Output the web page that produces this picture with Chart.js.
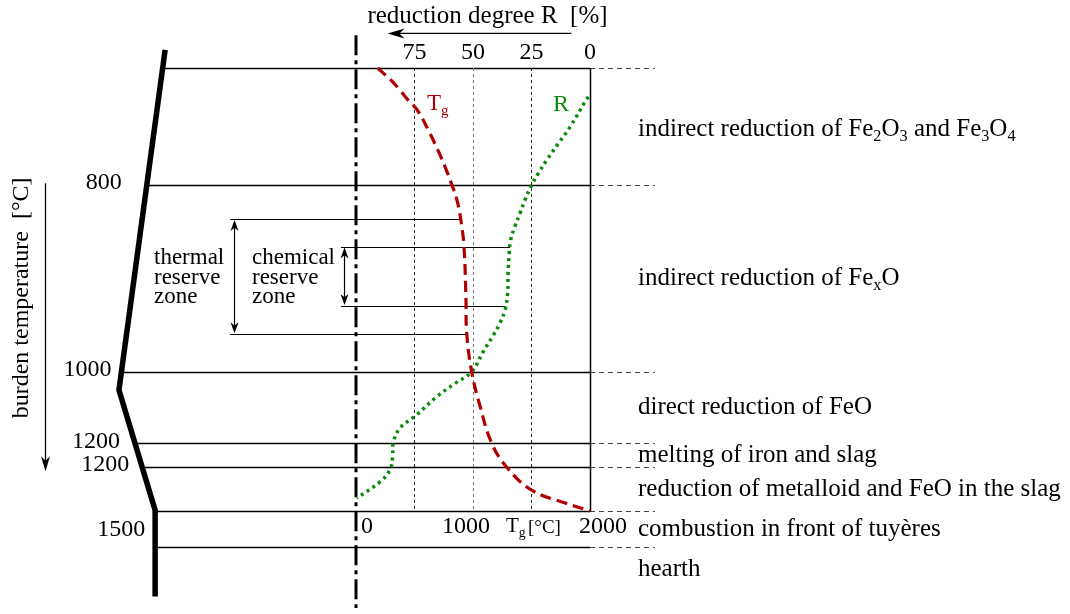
<!DOCTYPE html>
<html>
<head>
<meta charset="utf-8">
<script src="https://cdn.jsdelivr.net/npm/chart.js@4.4.1/dist/chart.umd.min.js"></script>
<style>
  html, body { margin: 0; padding: 0; background: #fff; }
  #wrap { width: 1070px; height: 614px; }
</style>
</head>
<body>
<div id="wrap"><canvas id="furnaceChart" width="1070" height="614"></canvas></div>
<script>
// depth axis: 0 = top of the shaft box, 100 = tuyere level

// gas temperature Tg [°C] along the shaft
var tgDepth  = [0, 2.7, 5.0, 7.2, 9.5, 14.0, 18.6, 22.3, 26.4, 29.8, 34.1, 40.3, 52.4, 59.8, 68.6, 76.3, 84.7, 90.1, 95.3, 98.3, 100];
var tgValues = [185, 297, 376, 444, 524, 618, 701, 761, 820, 863, 895, 923, 940, 946, 989, 1060, 1160, 1288, 1502, 1801, 2000];

// reduction degree R [%] along the shaft
var rDepth  = [6.5, 7.6, 13.3, 17.0, 20.8, 23.8, 26.4, 29.8, 32.8, 35.8, 38.8, 41.8, 46.3, 50.9, 54.6, 57.6, 60.3, 64.0, 68.6, 71.2, 74.2, 78.3, 81.3, 84.7, 87.7, 90.7, 93.4, 97.1];
var rValues = [0.7, 2.1, 8.5, 13.5, 18.5, 22.1, 24.9, 27.8, 29.9, 32.1, 33.9, 34.5, 35.0, 35.2, 36.3, 38.5, 41.3, 45.6, 50.6, 57.7, 65.5, 74.1, 81.2, 84.1, 84.3, 85.5, 89.7, 99.7];

// furnace wall profile (radius in m from the centre line)
var wallDepth  = [-4.1, 72.7, 99.8, 119.3];
var wallRadius = [4.01, 4.98, 4.22, 4.22];

// zone boundaries and labels
var levelDepths = [0, 26.4, 68.6, 84.7, 90.1, 100, 108.1];
var zoneLabels = [
  'indirect reduction of Fe_2O_3 and Fe_3O_4',
  'indirect reduction of Fe_xO',
  'direct reduction of FeO',
  'melting of iron and slag',
  'reduction of metalloid and FeO in the slag',
  'combustion in front of tuyères',
  'hearth'
];
var burdenTempLabels = ['800', '1000', '1200', '1200', '1500'];
var burdenTempDepths = [26.4, 68.6, 84.7, 90.1, 104.6];

var rTicks  = [75, 50, 25, 0];
var tgTicks = [0, 1000, 2000];

var thermalZone  = [34.1, 60.1];
var chemicalZone = [40.3, 53.7];

var red = '#b00000';
var green = '#0b8a0b';
var FONT = "'Liberation Serif', 'Times New Roman', serif";

function toPoints(depths, vals) {
  return depths.map(function (d, i) { return { x: vals[i], y: d }; });
}

function interp(depths, vals, d) {
  for (var i = 1; i < depths.length; i++) {
    if (d <= depths[i]) {
      var t = (d - depths[i - 1]) / (depths[i] - depths[i - 1]);
      return vals[i - 1] + t * (vals[i] - vals[i - 1]);
    }
  }
  return vals[vals.length - 1];
}

// text with "_x" subscripts
function richWidth(ctx, str, size) {
  var w = 0;
  for (var i = 0; i < str.length; i++) {
    if (str[i] === '_') { ctx.font = (size * 0.65) + 'px ' + FONT; w += ctx.measureText(str[i + 1]).width; i++; }
    else { ctx.font = size + 'px ' + FONT; w += ctx.measureText(str[i]).width; }
  }
  return w;
}
function drawRich(ctx, str, x, y, size, align) {
  if (align === 'center') x -= richWidth(ctx, str, size) / 2;
  ctx.textAlign = 'left';
  ctx.textBaseline = 'middle';
  var buf = '';
  function flush() {
    if (!buf) return;
    ctx.font = size + 'px ' + FONT;
    ctx.fillText(buf, x, y);
    x += ctx.measureText(buf).width;
    buf = '';
  }
  for (var i = 0; i < str.length; i++) {
    if (str[i] === '_') {
      flush();
      ctx.font = (size * 0.65) + 'px ' + FONT;
      ctx.fillText(str[i + 1], x, y + size * 0.3);
      x += ctx.measureText(str[i + 1]).width;
      i++;
    } else buf += str[i];
  }
  flush();
}

function arrowHead(ctx, x, y, dx, dy, len, half) {
  ctx.beginPath();
  ctx.moveTo(x, y);
  ctx.lineTo(x - dx * len - dy * half, y - dy * len + dx * half);
  ctx.lineTo(x - dx * len * 0.7, y - dy * len * 0.7);
  ctx.lineTo(x - dx * len + dy * half, y - dy * len - dx * half);
  ctx.closePath();
  ctx.fill();
}

function hline(ctx, x0, x1, y, width, dash) {
  ctx.save();
  ctx.lineWidth = width;
  ctx.setLineDash(dash || []);
  ctx.beginPath();
  ctx.moveTo(x0, y);
  ctx.lineTo(x1, y);
  ctx.stroke();
  ctx.restore();
}

var furnacePlugin = {
  id: 'furnace',
  beforeDatasetsDraw: function (chart) {
    var ctx = chart.ctx, s = chart.scales;
    var X = function (v) { return s.x.getPixelForValue(v); };
    var XR = function (v) { return s.xR.getPixelForValue(v); };
    var Y = function (v) { return s.y.getPixelForValue(v); };
    var wallX = function (d) { return s.xr.getPixelForValue(interp(wallDepth, wallRadius, d)); };

    ctx.save();
    ctx.strokeStyle = '#000';
    ctx.fillStyle = '#000';

    // zone boundaries
    levelDepths.forEach(function (d) {
      var y = Math.round(Y(d)) + 0.5;
      hline(ctx, wallX(d), X(2000), y, 1.3);
      ctx.strokeStyle = '#444';
      hline(ctx, X(2000), X(2555), y, 1, [5, 4]);
      ctx.strokeStyle = '#000';
    });

    // right edge of the diagram box
    ctx.lineWidth = 1.5;
    ctx.beginPath();
    ctx.moveTo(Math.round(X(2000)) + 0.5, Y(0));
    ctx.lineTo(Math.round(X(2000)) + 0.5, Y(100));
    ctx.stroke();

    // reduction degree grid
    rTicks.forEach(function (v) {
      if (v === 0) return;
      var x = Math.round(XR(v)) + 0.5;
      ctx.save();
      ctx.strokeStyle = v === 50 ? '#777' : '#222';
      ctx.lineWidth = 1;
      ctx.setLineDash([3, 3]);
      ctx.beginPath();
      ctx.moveTo(x, Y(0));
      ctx.lineTo(x, Y(100));
      ctx.stroke();
      ctx.restore();
    });

    // thermal reserve zone
    var thX = 230;
    thermalZone.forEach(function (d) {
      hline(ctx, thX, X(interp(tgDepth, tgValues, d)), Math.round(Y(d)) + 0.5, 1.2);
    });
    // chemical reserve zone
    var chX = 341;
    chemicalZone.forEach(function (d) {
      hline(ctx, chX, XR(interp(rDepth, rValues, d)), Math.round(Y(d)) + 0.5, 1.2);
    });
    [[thX + 4.5, thermalZone], [chX + 3.5, chemicalZone]].forEach(function (a) {
      var y0 = Y(a[1][0]) + 1, y1 = Y(a[1][1]) - 1;
      ctx.lineWidth = 1.2;
      ctx.beginPath();
      ctx.moveTo(a[0], y0 + 6);
      ctx.lineTo(a[0], y1 - 6);
      ctx.stroke();
      arrowHead(ctx, a[0], y0, 0, -1, 11, 4);
      arrowHead(ctx, a[0], y1, 0, 1, 11, 4);
    });

    // burden temperature arrow on the left
    ctx.lineWidth = 1.3;
    ctx.beginPath();
    ctx.moveTo(45.5, Y(26.0));
    ctx.lineTo(45.5, Y(89));
    ctx.stroke();
    arrowHead(ctx, 45.5, Y(91.0), 0, 1, 15, 4.5);

    // reduction degree arrow on top
    ctx.beginPath();
    ctx.moveTo(XR(8), Y(-7.8));
    ctx.lineTo(XR(84), Y(-7.8));
    ctx.stroke();
    arrowHead(ctx, XR(86.5), Y(-7.8), -1, 0, 17, 5);
    ctx.restore();
  },
  afterDatasetsDraw: function (chart) {
    var ctx = chart.ctx, s = chart.scales;
    var X = function (v) { return s.x.getPixelForValue(v); };
    var XR = function (v) { return s.xR.getPixelForValue(v); };
    var Y = function (v) { return s.y.getPixelForValue(v); };
    var wallX = function (d) { return s.xr.getPixelForValue(interp(wallDepth, wallRadius, d)); };

    ctx.save();
    ctx.fillStyle = '#000';

    // zone descriptions at the middle of each zone
    zoneLabels.forEach(function (txt, i) {
      var top = levelDepths[i];
      var bot = i + 1 < levelDepths.length ? levelDepths[i + 1] : levelDepths[i] + 10;
      var nudge = i === 0 ? 3 : 0;
      drawRich(ctx, txt, 638, Y((top + bot) / 2) + nudge, 25, 'left');
    });

    // burden temperatures next to the wall
    var gaps = [25, 10, 15, 13, 10];
    burdenTempLabels.forEach(function (t, i) {
      var d = burdenTempDepths[i];
      ctx.font = '24px ' + FONT;
      ctx.textAlign = 'right';
      ctx.textBaseline = 'middle';
      ctx.fillText(t, wallX(d) - gaps[i], Y(d) - 2);
    });

    // reduction degree ticks and title
    rTicks.forEach(function (v) {
      ctx.font = '24px ' + FONT;
      ctx.textAlign = 'center';
      ctx.textBaseline = 'middle';
      ctx.fillText(String(v), XR(v), Y(-3.4));
    });
    ctx.font = '25px ' + FONT;
    ctx.fillText('reduction degree R  [%]', XR(43.8), Y(-11.6));

    // gas temperature ticks
    var tickY = Y(103.6);
    ctx.font = '24px ' + FONT;
    ctx.textAlign = 'left';
    ctx.fillText(String(tgTicks[0]), X(tgTicks[0]) + 5, tickY);
    ctx.textAlign = 'center';
    ctx.fillText(String(tgTicks[1]), X(tgTicks[1]) - 7, tickY);
    ctx.fillText(String(tgTicks[2]), X(tgTicks[2]) + 13, tickY);
    drawRich(ctx, 'T_g', 506, tickY, 21, 'left');
    ctx.font = '19px ' + FONT;
    ctx.textAlign = 'left';
    ctx.fillText('[°C]', 528, tickY + 1);

    // reserve zone captions
    ctx.font = '23px ' + FONT;
    ctx.textAlign = 'left';
    ctx.textBaseline = 'middle';
    ['thermal', 'reserve', 'zone'].forEach(function (t, i) { ctx.fillText(t, 154, 258 + i * 19.5); });
    ['chemical', 'reserve', 'zone'].forEach(function (t, i) { ctx.fillText(t, 252, 258 + i * 19.5); });

    // curve labels
    ctx.fillStyle = red;
    drawRich(ctx, 'T_g', 427, 104, 23, 'left');
    ctx.fillStyle = green;
    ctx.font = '24px ' + FONT;
    ctx.fillText('R', 553, 105);

    // axis title on the left
    ctx.fillStyle = '#000';
    ctx.translate(22, Y(51.9));
    ctx.rotate(-Math.PI / 2);
    ctx.font = '24px ' + FONT;
    ctx.textAlign = 'center';
    ctx.fillText('burden temperature  [°C]', 0, 0);
    ctx.restore();
  }
};

new Chart(document.getElementById('furnaceChart'), {
  type: 'line',
  data: {
    datasets: [
      {
        label: 'Tg', data: toPoints(tgDepth, tgValues), xAxisID: 'x', yAxisID: 'y',
        borderColor: red, borderWidth: 3.2, borderDash: [11, 6],
        tension: 0.4, pointRadius: 0, fill: false
      },
      {
        label: 'R', data: toPoints(rDepth, rValues), xAxisID: 'xR', yAxisID: 'y',
        borderColor: green, borderWidth: 3.5, borderDash: [3, 4],
        tension: 0.4, pointRadius: 0, fill: false
      },
      {
        label: 'wall', data: toPoints(wallDepth, wallRadius), xAxisID: 'xr', yAxisID: 'y',
        borderColor: '#000', borderWidth: 5.5, borderJoinStyle: 'miter',
        tension: 0, pointRadius: 0, fill: false
      },
      {
        label: 'centre line', data: [{ x: 0, y: -7.4 }, { x: 0, y: 121.9 }], xAxisID: 'xr', yAxisID: 'y',
        borderColor: '#000', borderWidth: 3, borderDash: [20, 5, 4, 5],
        tension: 0, pointRadius: 0, fill: false
      }
    ]
  },
  options: {
    responsive: false,
    animation: false,
    devicePixelRatio: 1,
    events: [],
    layout: { padding: 0 },
    plugins: { legend: { display: false }, tooltip: { enabled: false } },
    scales: {
      x:  { axis: 'x', type: 'linear', display: false, min: -3043, max: 6103 },
      xR: { axis: 'x', type: 'linear', display: false, reverse: true, min: -205.1, max: 252.1 },
      xr: { axis: 'x', type: 'linear', display: false, reverse: true, min: -15.0, max: 7.479 },
      y:  { axis: 'y', type: 'linear', display: false, reverse: true, min: -15.35, max: 123.25 }
    }
  },
  plugins: [furnacePlugin]
});
</script>
</body>
</html>
